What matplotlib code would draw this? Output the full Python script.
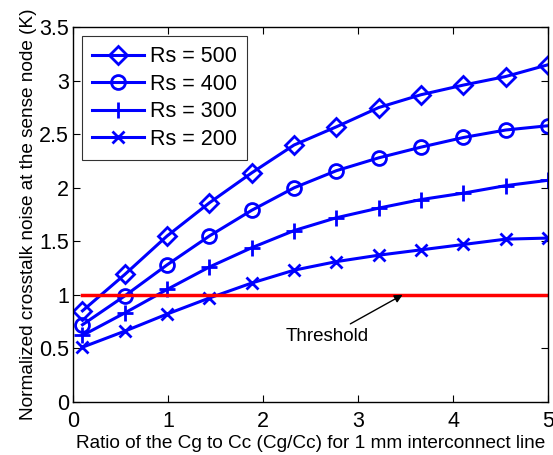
import numpy as np
import matplotlib
matplotlib.use("Agg")
import matplotlib.pyplot as plt

plt.rcParams['font.family'] = ['Liberation Sans', 'DejaVu Sans']

x = np.linspace(0.1, 5.0, 12)
rs500 = [0.85, 1.19, 1.55, 1.86, 2.14, 2.40, 2.57, 2.75, 2.87, 2.96, 3.04, 3.15]
rs400 = [0.72, 0.99, 1.28, 1.55, 1.79, 2.00, 2.16, 2.28, 2.38, 2.47, 2.54, 2.58]
rs300 = [0.62, 0.83, 1.05, 1.26, 1.44, 1.60, 1.72, 1.81, 1.89, 1.95, 2.02, 2.07]
rs200 = [0.51, 0.66, 0.82, 0.97, 1.11, 1.23, 1.31, 1.37, 1.42, 1.47, 1.52, 1.53]
labels = ['Rs = 500', 'Rs = 400', 'Rs = 300', 'Rs = 200']
markers = ['D', 'o', '+', 'x']
msizes = [9, 10, 11, 9]
threshold_x = [0.1, 5.0]
threshold_y = [1.0, 1.0]

fig = plt.figure(figsize=(5.53, 4.55), dpi=100)
ax = fig.add_axes([0.132, 0.117, 0.859, 0.823])

for ys, lab, m, ms in zip([rs500, rs400, rs300, rs200], labels, markers, msizes):
    ax.plot(x, ys, color='#0000ff', lw=2.2, marker=m, markersize=ms,
            markerfacecolor='none', markeredgewidth=2.0, label=lab)

ax.plot(threshold_x, threshold_y, color='#ff0000', lw=2.5)
ax.annotate('Threshold', xy=(3.47, 1.0), xytext=(2.68, 0.61),
            ha='center', va='center', fontsize=13.5,
            arrowprops=dict(arrowstyle='-|>', color='black', lw=1.0,
                            shrinkA=2, shrinkB=0, mutation_scale=12),
            )

ax.set_xlim(0, 5)
ax.set_ylim(0, 3.5)
ax.set_xticks([0, 1, 2, 3, 4, 5])
ax.set_yticks([0, 0.5, 1, 1.5, 2, 2.5, 3, 3.5])
ax.set_yticklabels(['0', '0.5', '1', '1.5', '2', '2.5', '3', '3.5'])
ax.tick_params(direction='in', top=True, right=True, labelsize=15.5, length=5, width=0.8)
ax.tick_params(axis='x', pad=7)
ax.tick_params(axis='y', pad=3)
for s in ax.spines.values():
    s.set_linewidth(1.0)

ax.set_xlabel('Ratio of the Cg to Cc (Cg/Cc) for 1 mm interconnect line', fontsize=13.7, labelpad=1.5)
ax.set_ylabel('Normalized crosstalk noise at the sense node (K)', fontsize=13.7, labelpad=1)

leg = ax.legend(loc='upper left', fontsize=15.5, frameon=True, fancybox=False,
                edgecolor='black', borderpad=0.48, labelspacing=0.3,
                handlelength=2.4, handletextpad=0.3, borderaxespad=0.4)
leg.get_frame().set_linewidth(0.8)

fig.savefig('out.png', dpi=100)
